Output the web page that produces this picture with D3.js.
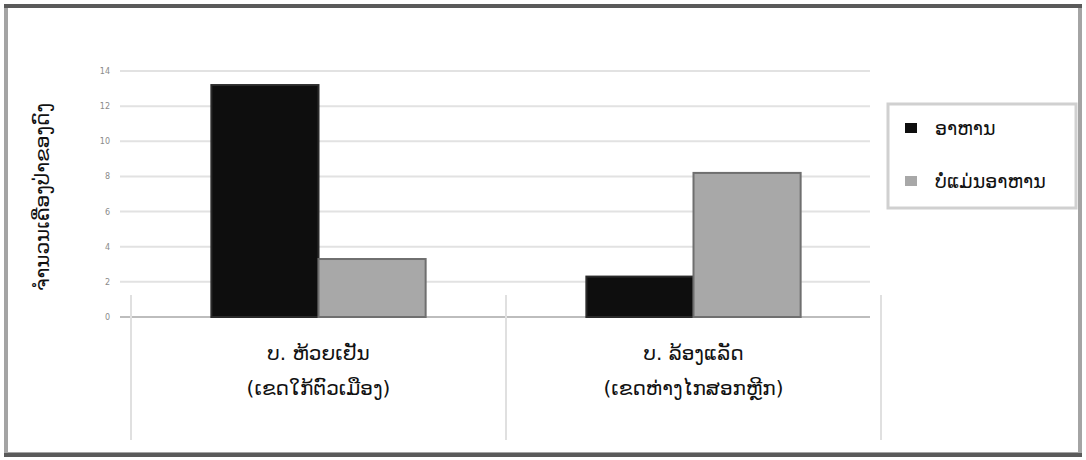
<!DOCTYPE html>
<html>
<head>
<meta charset="utf-8">
<script src="https://d3js.org/d3.v7.min.js"></script>
<style>
  body { margin: 0; background: #fff; }
  svg { display: block; font-family: "DejaVu Sans", sans-serif; }
</style>
</head>
<body>
<div id="chart"></div>
<script>
// village names and their zone (second label line)
const villages = ["ບ. ຫ້ວຍເຢັນ", "ບ. ລ້ອງແລັດ"];
const zones = ["(ເຂດໃກ້ຕົວເມືອງ)", "(ເຂດຫ່າງໄກສອກຫຼີກ)"];
const series = ["ອາຫານ", "ບໍ່ແມ່ນອາຫານ"];
const foodValues = [13.2, 2.3];
const nonFoodValues = [3.3, 8.2];
const yTicks = [0, 2, 4, 6, 8, 10, 12, 14];
const yTitle = "ຈຳນວນເຄື່ອງປ່າຂອງດົງ";

const W = 1086, H = 460;
const colors = {"ອາຫານ": "#0e0e0e", "ບໍ່ແມ່ນອາຫານ": "#a8a8a8"};
const strokes = {"ອາຫານ": "#2a2a2a", "ບໍ່ແມ່ນອາຫານ": "#6f6f6f"};

let svg = d3.select("#chart").append("svg")
  .attr("width", W).attr("height", H);

// outer frame
svg.append("rect")
  .attr("x", 6).attr("y", 6).attr("width", W - 12).attr("height", H - 12)
  .attr("fill", "#fff").attr("stroke", "#a4a4a4").attr("stroke-width", 4);
svg.append("line").attr("x1", 4).attr("x2", W - 4).attr("y1", 6).attr("y2", 6)
  .attr("stroke", "#5a5a5a").attr("stroke-width", 4);
svg.append("line").attr("x1", 4).attr("x2", W - 4).attr("y1", H - 5).attr("y2", H - 5)
  .attr("stroke", "#5a5a5a").attr("stroke-width", 4);

let y = d3.scaleLinear().domain([0, 14]).range([317, 71]);

let x0 = d3.scaleBand().domain(villages).range([131, 881]);
let x1 = d3.scaleBand().domain(series).range([0, x0.bandwidth()])
  .paddingInner(0).paddingOuter(0.75);

// gridlines
svg.append("g").selectAll("line").data(yTicks).enter().append("line")
  .attr("x1", 120).attr("x2", 870)
  .attr("y1", d => y(d)).attr("y2", d => y(d))
  .attr("stroke", d => d === 0 ? "#bdbdbd" : "#e2e2e2")
  .attr("stroke-width", 2);

// y tick labels
svg.append("g").selectAll("text").data(yTicks).enter().append("text")
  .attr("x", 110).attr("y", d => y(d) + 3)
  .attr("text-anchor", "end").attr("font-size", 8).attr("fill", "#8a8a8a")
  .text(d => d);

// category dividers
svg.append("g").selectAll("line").data([131, 506, 881]).enter().append("line")
  .attr("x1", d => d).attr("x2", d => d)
  .attr("y1", 295).attr("y2", 440)
  .attr("stroke", "#e0e0e0").attr("stroke-width", 2);

// bars
let rows = villages.map((v, i) => ({
  village: v,
  vals: [{s: series[0], v: foodValues[i]}, {s: series[1], v: nonFoodValues[i]}]
}));

let groups = svg.append("g").selectAll("g").data(rows).enter().append("g")
  .attr("transform", d => `translate(${x0(d.village)},0)`);

groups.selectAll("rect").data(d => d.vals).enter().append("rect")
  .attr("x", d => x1(d.s))
  .attr("y", d => y(d.v))
  .attr("width", x1.bandwidth())
  .attr("height", d => y(0) - y(d.v))
  .attr("fill", d => colors[d.s])
  .attr("stroke", d => strokes[d.s])
  .attr("stroke-width", 2);

// category labels
let labels = svg.append("g").selectAll("text").data(villages).enter().append("text")
  .attr("text-anchor", "middle").attr("font-size", 20).attr("fill", "#111");
labels.append("tspan")
  .attr("x", d => x0(d) + x0.bandwidth() / 2).attr("y", 360)
  .text(d => d);
labels.append("tspan")
  .attr("x", d => x0(d) + x0.bandwidth() / 2).attr("y", 395)
  .text((d, i) => zones[i]);

// y title
svg.append("text")
  .attr("transform", "translate(49,197) rotate(-90)")
  .attr("text-anchor", "middle").attr("font-size", 20).attr("fill", "#111")
  .text(yTitle);

// legend
let legend = svg.append("g");
legend.append("rect")
  .attr("x", 888).attr("y", 104).attr("width", 188).attr("height", 104)
  .attr("fill", "#fff").attr("stroke", "#d0d0d0").attr("stroke-width", 3);
let items = legend.selectAll("g").data(series).enter().append("g")
  .attr("transform", (d, i) => `translate(905,${123 + i * 53})`);
items.append("rect")
  .attr("width", 12).attr("height", 10)
  .attr("fill", d => colors[d]);
items.append("text")
  .attr("x", 30).attr("y", 12)
  .attr("font-size", 19).attr("fill", "#111")
  .text(d => d);
</script>
</body>
</html>
